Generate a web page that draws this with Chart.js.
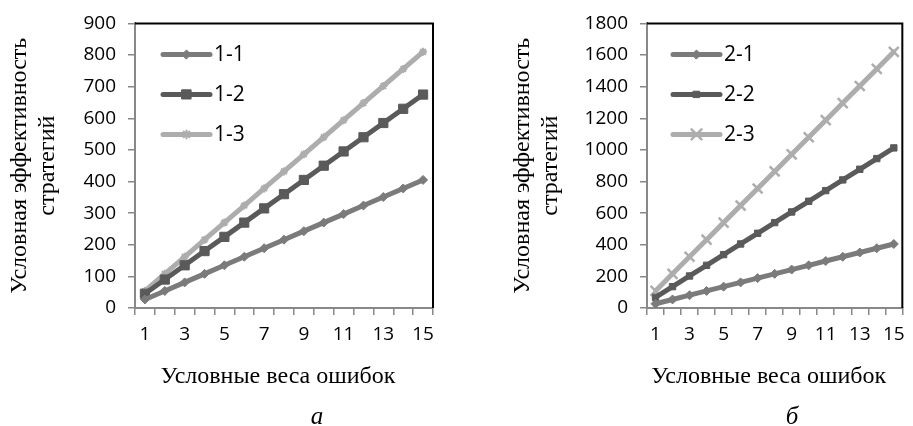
<!DOCTYPE html>
<html><head><meta charset="utf-8">
<script src="https://cdn.jsdelivr.net/npm/chart.js@4.4.0/dist/chart.umd.min.js"></script>
<style>
html,body{margin:0;padding:0;background:#fff;width:913px;height:426px;overflow:hidden;position:relative}
canvas{position:absolute;top:0}
#c1{left:0}
#c2{left:460px}
.cap{position:absolute;font-family:"Liberation Serif","DejaVu Serif",serif;font-style:italic;font-size:25px;line-height:30px;width:40px;text-align:center;color:#000}
</style></head>
<body>
<canvas id="c1" width="460" height="426"></canvas>
<canvas id="c2" width="453" height="426"></canvas>
<div class="cap" style="left:297px;top:401px">а</div>
<div class="cap" style="left:772px;top:401px">б</div>
<script>
// ---- data ----
const categories = ['1','2','3','4','5','6','7','8','9','10','11','12','13','14','15'];
const xTickLabels = ['1','3','5','7','9','11','13','15'];
const yAxisTitle = ['Условная эффективность','стратегий'];
const xAxisTitle = 'Условные веса ошибок';

const namesA = ['1-1','1-2','1-3'];
const seriesA1 = [27,54,81,108,135,162,189,216,243,270,297,324,351,378,405];
const seriesA2 = [45,90,135,180,225,270,315,360,405,450,495,540,585,630,675];
const seriesA3 = [54,108,162,216,270,324,378,432,486,540,594,648,702,756,810];
const yMaxA = 900, yStepA = 100;

const namesB = ['2-1','2-2','2-3'];
const seriesB1 = [27,54,81,108,135,162,189,216,243,270,297,324,351,378,405];
const seriesB2 = [67.5,135,202.5,270,337.5,405,472.5,540,607.5,675,742.5,810,877.5,945,1012.5];
const seriesB3 = [108,216,324,432,540,648,756,864,972,1080,1188,1296,1404,1512,1620];
const yMaxB = 1800, yStepB = 200;

// ---- styles ----
const MED = '#7b7b7b', DARK = '#5a5a5a', LIGHT = '#adadad', AXIS = '#888888';
const SERIF = '"Liberation Serif","DejaVu Serif",serif';
const SANS = '"Open Sans","Liberation Sans",sans-serif';

function ds(label, data, color, pointStyle, radius, pbw) {
  return {
    label, data,
    borderColor: color, backgroundColor: color,
    borderWidth: 5, borderJoinStyle: 'round', borderCapStyle: 'round',
    pointStyle, pointRadius: radius, pointHoverRadius: radius,
    pointBackgroundColor: color, pointBorderColor: color, pointBorderWidth: pbw,
    tension: 0, fill: false
  };
}

const frame = {
  id: 'frame',
  beforeDatasetsDraw(chart) {
    const {ctx, chartArea: a} = chart;
    ctx.save();
    ctx.strokeStyle = '#000'; ctx.lineWidth = 2;
    ctx.beginPath();
    ctx.moveTo(a.left, a.top); ctx.lineTo(a.right, a.top); ctx.lineTo(a.right, a.bottom);
    ctx.stroke();
    ctx.restore();
  }
};

const insideLegend = {
  id: 'insideLegend',
  afterDatasetsDraw(chart, args, o) {
    const {ctx, chartArea: a} = chart;
    chart.data.datasets.forEach((d, i) => {
      const y = a.top + o.top + i * o.gap;
      const x0 = a.left + o.left;
      ctx.save();
      ctx.strokeStyle = d.borderColor; ctx.lineWidth = d.borderWidth; ctx.lineCap = 'round';
      ctx.beginPath(); ctx.moveTo(x0, y); ctx.lineTo(x0 + o.len, y); ctx.stroke();
      ctx.fillStyle = d.pointBackgroundColor; ctx.strokeStyle = d.pointBorderColor; ctx.lineWidth = d.pointBorderWidth;
      Chart.helpers.drawPoint(ctx, {pointStyle: d.pointStyle, radius: d.pointRadius, borderWidth: d.pointBorderWidth, rotation: 0}, x0 + o.len / 2, y);
      ctx.fillStyle = '#000';
      ctx.font = o.font;
      ctx.textBaseline = 'middle'; ctx.textAlign = 'left';
      ctx.fillText(d.label, x0 + o.len + 4, y + 1);
      ctx.restore();
    });
  }
};

function makeChart(id, names, s1, s2, s3, st, yMax, yStep, pad, yWidth, legendLeft) {
  return new Chart(document.getElementById(id), {
    type: 'line',
    data: {
      labels: categories,
      datasets: [
        ds(names[0], s1, MED, 'rectRot', 4.5, 1),
        ds(names[1], s2, DARK, 'rect', st.r2, 1),
        ds(names[2], s3, LIGHT, st.p3, st.r3, st.w3)
      ]
    },
    options: {
      responsive: false, animation: false,
      layout: {padding: pad},
      plugins: {
        legend: {display: false}, tooltip: {enabled: false},
        insideLegend: {left: legendLeft, top: 31, gap: 40, len: 47, font: '21px ' + SANS}
      },
      scales: {
        x: {
          type: 'category', offset: true,
          grid: {offset: true, drawOnChartArea: false, drawTicks: true, tickLength: 7, color: AXIS, lineWidth: 1.5},
          border: {display: true, color: AXIS, width: 2},
          ticks: {
            autoSkip: false, maxRotation: 0, padding: 8, color: '#000',
            font: {family: SANS, size: 19},
            callback: (v, i) => xTickLabels.includes(categories[i]) ? categories[i] : ''
          },
          title: {display: true, text: xAxisTitle + '  ', color: '#000', padding: 0,
                  font: {family: SERIF, size: 24, lineHeight: 1.2}},
          afterFit: s => { s.height = 83; }
        },
        y: {
          min: 0, max: yMax,
          grid: {drawOnChartArea: false, drawTicks: true, tickLength: 7, color: AXIS, lineWidth: 1.5},
          border: {display: true, color: AXIS, width: 2},
          ticks: {stepSize: yStep, padding: 12, color: '#000', font: {family: SANS, size: 19},
                  callback: v => String(v)},
          title: {display: true, text: yAxisTitle, color: '#000', padding: 0,
                  font: {family: SERIF, size: 24, lineHeight: 1.2}},
          afterFit: s => { s.width = yWidth; }
        }
      }
    },
    plugins: [frame, insideLegend]
  });
}

makeChart('c1', namesA, seriesA1, seriesA2, seriesA3,
  {r2: 6.5, p3: 'star', r3: 4, w3: 2}, yMaxA, yStepA,
  {left: 5, right: 27, top: 23, bottom: 35}, 130, 28);
makeChart('c2', namesB, seriesB1, seriesB2, seriesB3,
  {r2: 4.5, p3: 'crossRot', r3: 7, w3: 2.5}, yMaxB, yStepB,
  {left: 48, right: 5, top: 23, bottom: 35}, 139, 26);
</script>
</body></html>
